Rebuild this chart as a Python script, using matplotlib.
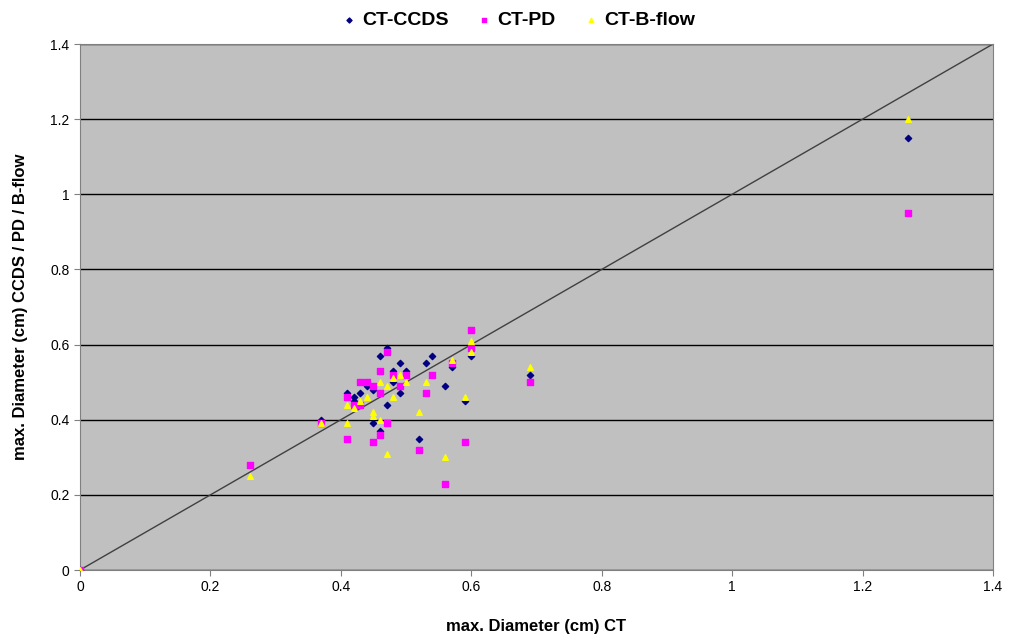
import matplotlib
matplotlib.use("Agg")
import matplotlib.pyplot as plt

plt.rcParams['font.family'] = ['Liberation Sans', 'DejaVu Sans']

# CT vs CCDS
ccds_x = [0, 0.37, 0.41, 0.42, 0.42, 0.43, 0.44, 0.45, 0.45, 0.46, 0.46, 0.47, 0.47, 0.48,
          0.48, 0.49, 0.49, 0.50, 0.52, 0.53, 0.54, 0.56, 0.57, 0.59, 0.60, 0.69, 1.27]
ccds_y = [0, 0.40, 0.47, 0.46, 0.45, 0.47, 0.49, 0.48, 0.39, 0.57, 0.37, 0.59, 0.44, 0.53,
          0.50, 0.55, 0.47, 0.53, 0.35, 0.55, 0.57, 0.49, 0.54, 0.45, 0.57, 0.52, 1.15]

# CT vs PD
pd_x = [0, 0.26, 0.37, 0.41, 0.41, 0.42, 0.43, 0.43, 0.44, 0.45, 0.45, 0.46, 0.46, 0.46,
        0.47, 0.47, 0.48, 0.49, 0.50, 0.52, 0.53, 0.54, 0.56, 0.57, 0.59, 0.60, 0.60, 0.69, 1.27]
pd_y = [0, 0.28, 0.39, 0.46, 0.35, 0.44, 0.50, 0.44, 0.50, 0.49, 0.34, 0.53, 0.36, 0.47,
        0.58, 0.39, 0.52, 0.49, 0.52, 0.32, 0.47, 0.52, 0.23, 0.55, 0.34, 0.64, 0.59, 0.50, 0.95]

# CT vs B-flow
bf_x = [0, 0.26, 0.37, 0.41, 0.41, 0.42, 0.43, 0.44, 0.45, 0.45, 0.46, 0.46, 0.47, 0.47,
        0.48, 0.48, 0.49, 0.50, 0.52, 0.53, 0.56, 0.57, 0.59, 0.60, 0.60, 0.69, 1.27]
bf_y = [0, 0.25, 0.39, 0.44, 0.39, 0.43, 0.45, 0.46, 0.42, 0.41, 0.50, 0.40, 0.31, 0.49,
        0.46, 0.51, 0.52, 0.50, 0.42, 0.50, 0.30, 0.56, 0.46, 0.61, 0.58, 0.54, 1.20]

fig = plt.figure(figsize=(10.2, 6.4), dpi=100)
ax = fig.add_axes([80/1020, 70/640, 913/1020, 526/640])
ax.set_facecolor('#C0C0C0')

ax.set_xlim(0, 1.4)
ax.set_ylim(0, 1.4)
ticks = [0, 0.2, 0.4, 0.6, 0.8, 1, 1.2, 1.4]
labels = ['0', '0.2', '0.4', '0.6', '0.8', '1', '1.2', '1.4']
ax.set_xticks(ticks)
ax.set_xticklabels(labels)
ax.set_yticks(ticks)
ax.set_yticklabels(labels)
ax.tick_params(labelsize=10, length=4, direction='out', color='#808080')
ax.yaxis.grid(True, color='black', linewidth=1)
ax.set_axisbelow(True)
for s in ax.spines.values():
    s.set_color('#808080')

ax.plot([0, 1.4], [0, 1.4], color='#404040', linewidth=1, zorder=2)

ax.scatter(ccds_x, ccds_y, marker='D', s=10, color='#000080', label='CT-CCDS', zorder=3)
ax.scatter(pd_x, pd_y, marker='s', s=14, color='#FF00FF', label='CT-PD', zorder=3)
ax.scatter(bf_x, bf_y, marker='^', s=16, color='#FFFF00', label='CT-B-flow', zorder=3)

ax.set_xlabel('max. Diameter (cm) CT', fontsize=12, fontweight='bold', labelpad=18)
ax.set_ylabel('max. Diameter (cm) CCDS / PD / B-flow', fontsize=12, fontweight='bold', labelpad=16)

leg = fig.legend(loc='upper center', bbox_to_anchor=(0.508, 1.01), ncol=3, frameon=False,
                 prop={'weight': 'bold', 'size': 14}, handletextpad=0.3, columnspacing=1.4,
                 markerscale=0.8, handlelength=0.8)

fig.savefig('out.png', dpi=100, facecolor='white')
